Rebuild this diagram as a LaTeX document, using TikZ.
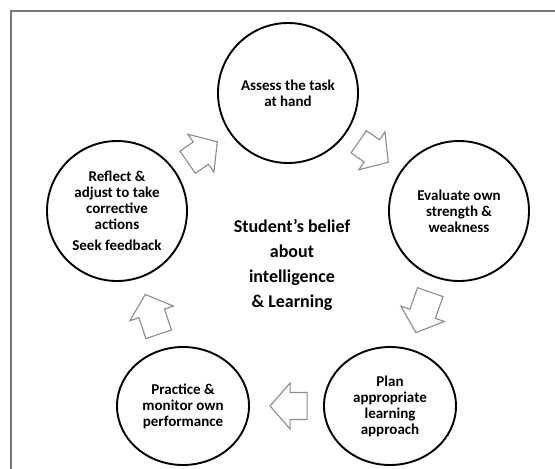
\documentclass[tikz,border=0pt]{standalone}
\usepackage{fontspec}
\setmainfont{Carlito}
\usetikzlibrary{shapes.geometric}
\definecolor{framegray}{RGB}{120,120,120}
\definecolor{arrowgray}{RGB}{140,140,140}
\tikzset{
  circ/.style={ellipse, draw=black, line width=1.9pt, fill=white, inner sep=0pt, align=center,
    font=\bfseries\fontsize{15}{16}\selectfont},
  bigcirc/.style={circ, minimum width=140pt, minimum height=140pt},
  smallcirc/.style={circ, minimum width=132pt, minimum height=118pt},
  centretext/.style={align=center, font=\bfseries\fontsize{18}{25}\selectfont},
  arrowline/.style={draw=arrowgray, line width=1.1pt, fill=white, line join=miter},
  pics/blockarrow/.style={code={
    \draw[arrowline] (#1/2,0) -- (#1/2-20,23) -- (#1/2-20,13.5) -- (-#1/2,13.5)
      -- (-#1/2,-13.5) -- (#1/2-20,-13.5) -- (#1/2-20,-23) -- cycle;
  }}
}
\begin{document}
\begin{tikzpicture}[x=1pt,y=-1pt]
\useasboundingbox (0,0) rectangle (555,469);
\fill[white] (0,0) rectangle (555,469);
\draw[framegray, line width=2pt] (11,470) -- (11,11) -- (556,11);

\node[bigcirc] (assess) at (288,93) {Assess the task\\at hand};
\node[bigcirc] (evaluate) at (459,211) {Evaluate own\\strength \&\\weakness};
\node[smallcirc] (plan) at (390,406) {Plan\\appropriate\\learning\\approach};
\node[smallcirc] (practice) at (183,406) {Practice \&\\monitor own\\performance};
\node[bigcirc] (reflect) at (117,211) {Reflect \&\\adjust to take\\corrective\\actions\\[5pt]Seek feedback};
\node[centretext] (belief) at (292,265) {Student’s belief\\about\\intelligence\\\& Learning};

\path (reflect.center) -- (assess.center) pic[pos=0.5, sloped, allow upside down] {blockarrow=36};
\path (assess.center) -- (evaluate.center) pic[pos=0.5, sloped, allow upside down] {blockarrow=36};
\path (evaluate.center) -- (plan.center) pic[pos=0.52, sloped, allow upside down] {blockarrow=43};
\path (plan.center) -- (practice.center) pic[pos=0.49, sloped, allow upside down] {blockarrow=37};
\path (practice.center) -- (reflect.center) pic[pos=0.47, sloped, allow upside down] {blockarrow=42};
\end{tikzpicture}
\end{document}
